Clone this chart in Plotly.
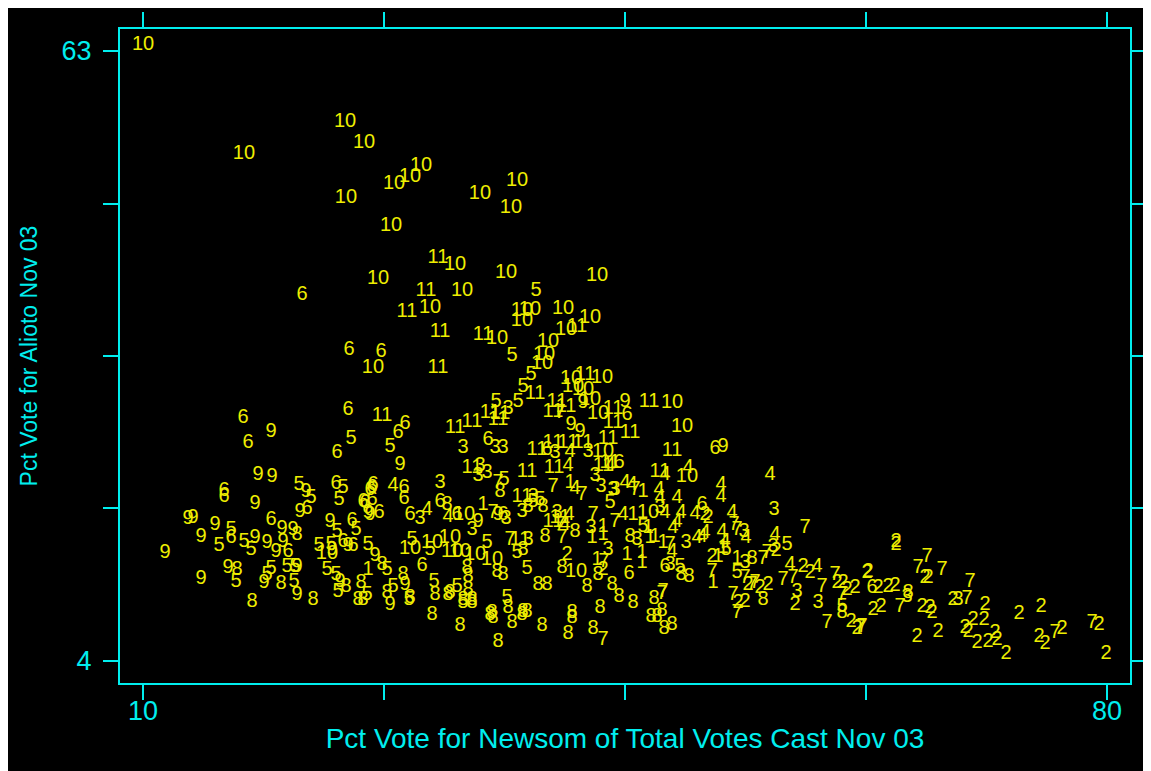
import plotly.graph_objects as go

# (Pct vote Newsom, Pct vote Alioto) per supervisorial district label
d1 = [(26.34,12.80),(41.01,21.22),(34.69,19.09),(43.41,16.96),(42.61,15.90),(43.41,16.19),(42.97,13.77),(46.31,20.35),(45.58,18.12),(46.67,16.87),(46.82,15.90),(47.18,16.00),(47.76,15.41),(52.12,14.93),(51.76,14.06),(45.15,14.25),(46.24,14.45),(46.24,13.48),(51.39,11.55),(53.14,13.87)]
d2 = [(40.79,14.25),(43.41,12.80),(50.81,18.12),(51.03,17.83),(55.97,14.64),(51.32,14.06),(53.94,11.35),(54.81,11.06),(55.38,11.35),(53.21,9.61),(53.72,9.71),(57.93,13.09),(58.44,12.51),(57.35,9.42),(60.40,11.55),(60.83,11.55),(61.12,10.87),(61.71,11.06),(62.58,12.51),(61.41,7.77),(61.85,7.10),(64.68,15.51),(64.68,15.22),(66.79,12.03),(67.01,12.03),(62.65,12.61),(63.38,11.06),(64.10,11.16),(64.61,11.26),(63.01,8.93),(63.59,9.22),(66.57,9.22),(67.15,9.13),(67.30,8.64),(68.82,9.90),(71.14,9.42),(73.61,8.55),(75.21,9.22),(70.27,7.96),(71.07,7.96),(69.69,7.19),(69.91,6.81),(66.21,6.32),(67.73,6.81),(70.56,5.74),(71.36,5.84),(72.02,6.03),(71.87,6.71),(72.67,4.67),(75.07,6.32),(75.50,5.64),(76.74,7.10),(79.42,7.48),(79.93,4.67)]
d3 = [(36.51,28.37),(33.24,24.60),(35.56,24.60),(36.14,24.60),(39.92,24.12),(42.32,24.22),(31.57,21.22),(30.12,17.74),(34.47,22.86),(34.33,21.89),(34.98,22.18),(38.32,19.86),(42.82,21.89),(43.26,20.83),(44.13,20.54),(36.36,17.74),(33.89,16.67),(37.52,18.41),(40.06,18.32),(42.53,16.87),(37.96,15.70),(43.77,14.74),(44.28,20.54),(47.54,18.80),(55.82,18.61),(53.65,16.48),(55.75,15.03),(45.87,15.70),(49.43,15.41),(48.27,13.29),(53.72,13.48),(57.49,10.67),(59.02,9.61),(65.48,10.19),(69.18,9.90)]
d4 = [(41.01,24.22),(28.15,20.93),(30.62,18.61),(32.15,17.93),(40.86,22.86),(43.91,22.86),(41.37,20.64),(40.94,18.12),(40.65,17.16),(47.91,21.99),(49.58,22.67),(55.53,21.99),(45.00,21.22),(45.51,21.02),(47.47,20.54),(47.54,19.77),(48.78,19.77),(51.97,21.02),(51.97,19.86),(44.86,18.12),(47.91,18.32),(49.07,18.32),(50.09,18.22),(52.77,18.32),(48.78,17.45),(48.49,16.87),(52.05,16.48),(52.26,15.51),(53.79,15.90),(50.81,16.38),(55.90,16.19),(50.23,15.90),(50.60,16.00),(48.42,14.54),(56.99,13.29),(58.95,13.09)]
d5 = [(38.54,39.79),(36.80,33.50),(38.18,31.66),(37.60,30.50),(35.64,29.05),(37.23,29.05),(25.10,25.47),(27.94,24.70),(21.33,21.02),(22.20,19.77),(24.52,20.73),(24.23,19.57),(16.39,16.67),(15.52,15.12),(17.33,15.51),(17.84,14.74),(24.09,16.48),(25.47,16.67),(22.78,15.12),(23.65,15.22),(26.34,15.22),(20.46,13.09),(21.04,13.09),(20.97,11.64),(16.75,11.64),(19.30,12.90),(19.00,12.32),(23.36,12.80),(24.02,12.32),(24.16,10.67),(26.27,10.38),(36.22,21.51),(43.91,19.28),(38.32,19.38),(38.83,19.57),(29.53,15.70),(30.84,14.74),(34.98,15.41),(37.16,14.45),(37.89,12.90),(27.72,12.80),(28.15,11.16),(31.13,11.64),(32.80,11.16),(36.43,10.09),(29.32,9.90),(33.24,9.61),(56.77,15.22),(46.31,16.96),(52.33,14.74),(49.00,13.09),(53.14,12.51),(60.76,9.22)]
d6 = [(21.55,39.40),(24.96,34.08),(27.28,33.89),(24.89,28.28),(29.03,26.92),(28.52,26.05),(17.26,27.50),(17.62,25.09),(24.09,24.12),(45.15,27.79),(35.05,25.38),(51.54,24.50),(39.34,24.41),(44.57,23.15),(15.88,20.44),(15.88,19.86),(24.02,21.12),(21.91,18.70),(26.48,20.54),(25.98,19.38),(16.39,15.90),(19.30,17.64),(20.53,14.54),(24.52,15.51),(25.18,17.54),(25.25,15.12),(26.70,21.02),(26.63,20.73),(26.63,19.57),(26.12,19.28),(27.14,18.32),(28.95,20.73),(28.95,19.67),(31.57,19.38),(29.39,18.12),(32.80,18.12),(36.14,18.12),(30.26,13.19),(50.60,19.09),(45.29,12.41),(47.91,13.09),(62.94,11.06)]
d7 = [(40.28,27.99),(35.78,21.22),(39.77,20.83),(41.88,20.06),(35.42,18.32),(40.28,17.16),(42.68,18.12),(44.28,17.45),(36.65,15.70),(40.43,15.90),(43.48,13.58),(47.69,10.48),(43.41,6.03),(45.73,20.54),(52.92,17.16),(53.14,16.67),(58.07,16.87),(48.27,15.22),(51.32,12.61),(55.02,13.87),(53.72,12.03),(54.23,11.35),(54.44,11.55),(52.85,10.38),(53.14,8.64),(55.31,14.45),(56.48,11.84),(57.20,12.03),(59.31,11.16),(60.25,12.32),(60.76,10.38),(47.76,10.67),(59.67,7.68),(62.07,7.19),(66.93,14.06),(66.28,13.00),(68.02,12.80),(70.06,11.64),(64.97,9.22),(69.84,10.00),(76.23,6.71),(78.92,7.68),(62.21,7.29)]
d8 = [(21.18,16.19),(16.83,12.80),(20.02,11.45),(17.92,9.71),(22.35,9.90),(24.74,11.16),(25.83,11.55),(25.61,9.90),(25.98,9.90),(32.08,19.09),(35.93,20.35),(37.96,18.90),(39.05,18.90),(41.37,16.48),(39.19,16.00),(37.60,14.74),(40.43,13.00),(43.04,12.32),(27.36,13.29),(28.88,12.32),(27.72,10.58),(29.39,10.09),(31.20,10.38),(32.29,10.58),(33.60,12.12),(33.60,10.87),(33.89,9.90),(33.24,9.90),(33.53,13.00),(35.71,12.61),(36.14,12.32),(38.69,11.35),(39.34,11.35),(42.24,11.16),(44.06,11.35),(43.19,9.13),(41.15,8.64),(36.51,9.13),(35.35,8.64),(37.60,8.74),(37.89,8.74),(30.99,8.45),(33.89,9.61),(35.20,8.45),(35.42,8.16),(37.52,8.45),(33.02,7.39),(36.80,7.68),(38.98,7.39),(41.15,8.16),(40.86,6.61),(35.78,5.84),(44.57,10.19),(45.58,9.61),(47.11,10.00),(46.89,8.26),(47.33,8.26),(47.69,8.84),(47.83,7.10),(48.42,7.48),(42.68,7.10),(32.15,10.38),(45.37,16.00),(49.07,12.32),(49.65,12.12),(54.23,13.87),(55.02,9.90),(60.76,8.64),(65.55,10.58)]
d9 = [(41.95,28.95),(45.00,29.05),(19.30,26.15),(28.66,22.96),(41.08,26.83),(41.73,26.15),(52.12,24.70),(18.35,21.99),(19.37,21.80),(18.13,19.19),(21.84,20.35),(21.40,18.41),(26.34,18.32),(13.27,17.74),(13.63,17.83),(15.23,17.16),(14.21,16.00),(11.60,14.45),(20.09,16.77),(20.89,16.67),(18.13,15.90),(19.00,15.41),(19.66,14.54),(20.17,15.51),(23.58,17.45),(24.89,15.12),(23.72,14.74),(21.18,13.09),(21.18,10.38),(16.17,13.00),(14.21,11.93),(18.79,11.55),(24.31,11.64),(26.48,18.12),(35.78,18.12),(34.33,17.45),(26.85,14.16),(29.03,11.35),(27.94,9.42)]
d10 = [(10.00,63.58),(24.67,56.13),(26.05,54.10),(17.33,53.04),(30.19,51.88),(29.39,50.81),(28.23,50.14),(34.47,49.17),(37.16,50.43),(24.74,48.78),(36.72,47.81),(28.01,46.07),(32.66,42.30),(36.36,41.53),(42.97,41.24),(27.07,40.95),(33.17,39.79),(30.84,38.14),(37.52,37.85),(38.10,37.95),(37.52,36.89),(40.50,38.05),(42.46,37.18),(40.72,36.02),(35.71,35.14),(39.41,34.85),(26.70,32.34),(39.12,33.60),(38.98,32.73),(41.08,31.28),(43.33,31.37),(41.23,30.50),(41.95,30.21),(42.46,29.24),(48.42,28.95),(43.04,27.89),(49.14,26.63),(43.41,24.22),(23.36,14.35),(33.31,18.12),(29.39,14.83),(30.99,15.41),(32.29,15.90),(32.44,14.54),(33.02,14.54),(34.11,14.25),(35.35,13.77),(41.45,12.61),(49.50,21.80),(46.67,18.32)]
d11 = [(31.42,42.98),(30.55,39.79),(29.17,37.76),(41.52,36.31),(31.57,35.82),(34.69,35.53),(31.42,32.34),(42.10,31.66),(38.47,29.82),(40.06,29.05),(46.75,29.05),(44.13,28.37),(27.36,27.70),(35.20,27.99),(35.93,27.89),(39.77,28.08),(40.72,28.57),(32.66,26.54),(33.89,27.12),(35.78,27.31),(44.13,27.02),(45.37,26.05),(43.77,25.47),(48.42,24.31),(38.61,24.41),(39.77,25.09),(40.86,25.09),(41.95,25.09),(43.91,23.15),(33.89,22.67),(37.89,22.28),(39.85,22.67),(43.41,22.86),(37.52,19.86),(39.77,17.45),(40.28,17.83),(37.38,15.70),(47.54,22.28)]

districts = {1: d1, 2: d2, 3: d3, 4: d4, 5: d5, 6: d6, 7: d7, 8: d8, 9: d9, 10: d10, 11: d11}

x_ticks = [10, 27.5, 45, 62.5, 80]
x_tick_labels = ["10", "", "", "", "80"]
y_ticks = [4, 18.75, 33.5, 48.25, 63]
y_tick_labels = ["4", "", "", "", "63"]

FONT = "Liberation Sans, Arial, Helvetica, sans-serif"
CYAN = "#00eeee"
YELLOW = "#eeee00"

fig = go.Figure()
for dist, pts in districts.items():
    fig.add_trace(go.Scatter(
        x=[p[0] for p in pts], y=[p[1] for p in pts],
        mode="text", text=[str(dist)] * len(pts),
        textposition="middle center",
        textfont=dict(family=FONT, size=20, color=YELLOW),
        cliponaxis=False,
        showlegend=False, hoverinfo="skip"))

axis_common = dict(showgrid=False, zeroline=False, showline=True, linecolor=CYAN,
                   linewidth=2, mirror="ticks", ticks="outside", ticklen=15,
                   tickwidth=1.5, tickcolor=CYAN, automargin=False,
                   tickfont=dict(family=FONT, size=27, color=CYAN))

fig.update_xaxes(range=[8.33, 81.67], tickmode="array", tickvals=x_ticks,
                 ticktext=x_tick_labels, ticklabelstandoff=-12,
                 title=dict(text="Pct Vote for Newsom of Total Votes Cast Nov 03",
                            font=dict(family=FONT, size=28, color=CYAN), standoff=3),
                 **axis_common)
fig.update_yaxes(range=[1.87, 65.13], tickmode="array", tickvals=y_ticks,
                 ticktext=y_tick_labels, ticklabelstandoff=6,
                 title=dict(text="Pct Vote for Alioto Nov 03",
                            font=dict(family=FONT, size=23, color=CYAN), standoff=18),
                 **axis_common)

# the page body keeps an 8px margin, so the figure starts 8px in from the corner
fig.update_layout(width=1143, height=763, autosize=False,
                  margin=dict(l=112, r=21, t=21, b=88, pad=0, autoexpand=False),
                  paper_bgcolor="black", plot_bgcolor="black")

fig.write_html("out.html")
